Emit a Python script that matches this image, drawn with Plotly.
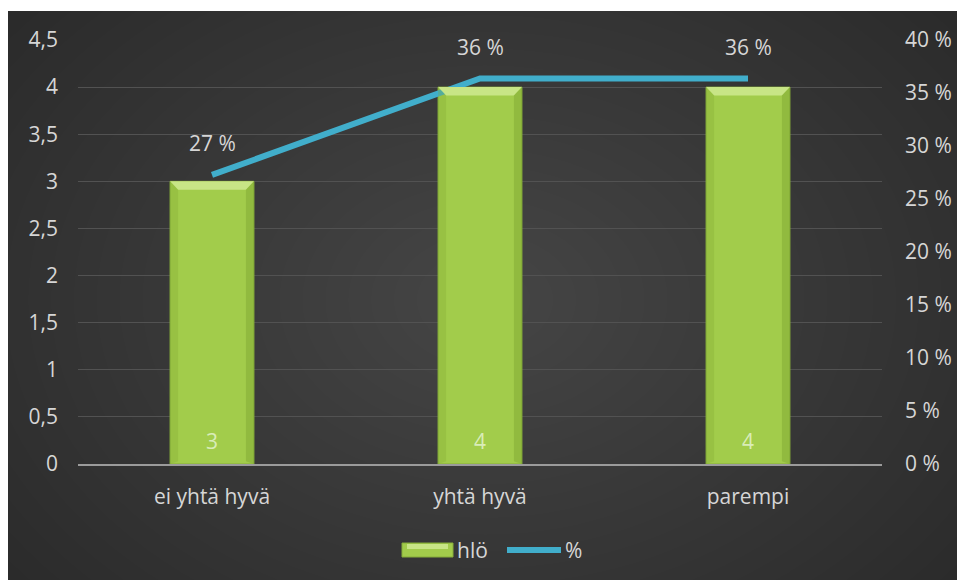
import plotly.graph_objects as go

# --- data ---------------------------------------------------------------
categories = ["ei yhtä hyvä", "yhtä hyvä", "parempi"]
counts = [3, 4, 4]
shares = [3 / 11, 4 / 11, 4 / 11]
share_labels = ["27 %", "36 %", "36 %"]

left_ticks = [0, 0.5, 1, 1.5, 2, 2.5, 3, 3.5, 4, 4.5]
left_tick_text = ["0", "0,5", "1", "1,5", "2", "2,5", "3", "3,5", "4", "4,5"]
right_ticks = [0, 0.05, 0.10, 0.15, 0.20, 0.25, 0.30, 0.35, 0.40]
right_tick_text = ["0 %", "5 %", "10 %", "15 %", "20 %", "25 %", "30 %", "35 %", "40 %"]

# --- geometry -----------------------------------------------------------
W, H = 957, 580
ML, MR, MT, MB = 78, 75, 40, 116
PW, PH = W - ML - MR, H - MT - MB
BAR_W = 0.313
FONT = "'Open Sans', 'Noto Sans', sans-serif"
FS = 21
TXT = "#d6d6d6"
GREEN = "#a2cc4b"
BLUE = "#41aecb"


def px(x):
    return (x - ML) / PW


def py(y):
    return (H - MB - y) / PH


fig = go.Figure()

fig.add_trace(go.Bar(
    x=categories, y=counts, width=BAR_W, name="hlö",
    marker=dict(color=GREEN, line=dict(color="#86ad3a", width=1)),
    showlegend=False, yaxis="y",
))
fig.add_trace(go.Scatter(
    x=categories, y=shares, mode="lines", name="%",
    line=dict(color=BLUE, width=6), showlegend=False, yaxis="y2",
))

shapes = []

# dark panel with a soft radial glow
shapes.append(dict(type="rect", xref="paper", yref="paper",
                   x0=px(8), x1=px(W + 5), y0=py(H + 5), y1=py(11),
                   fillcolor="#292929", line_width=0, layer="below"))
cx, cy = 485, 300
n = 28
for k in range(n):
    f = 1 - k / n
    rx, ry = 640 * f, 470 * f
    shapes.append(dict(type="circle", xref="paper", yref="paper",
                       x0=px(cx - rx), x1=px(cx + rx),
                       y0=py(cy + ry), y1=py(cy - ry),
                       fillcolor="rgba(255,255,255,0.0078)", line_width=0,
                       layer="below"))

# bevelled tops and edges of the bars
bx, by = 0.03, 0.09
for i, v in enumerate(counts):
    l, r = i - BAR_W / 2, i + BAR_W / 2
    shapes.append(dict(
        type="path", xref="x", yref="y", layer="above",
        path=f"M{l},{v} L{r},{v} L{r - bx},{v - by} L{l + bx},{v - by} Z",
        fillcolor="#c8e586", line_width=0))
    shapes.append(dict(
        type="path", xref="x", yref="y", layer="above",
        path=f"M{l},{v} L{l + bx},{v - by} L{l + bx},{0.03} L{l},0 Z",
        fillcolor="rgba(130,170,50,0.30)", line_width=0))
    shapes.append(dict(
        type="path", xref="x", yref="y", layer="above",
        path=f"M{r},{v} L{r - bx},{v - by} L{r - bx},{0.03} L{r},0 Z",
        fillcolor="rgba(120,160,45,0.40)", line_width=0))

annotations = []
# percentage labels above the line
for c, s, t in zip(categories, shares, share_labels):
    annotations.append(dict(x=c, y=s, xref="x", yref="y2", text=t,
                            showarrow=False, yshift=32,
                            font=dict(family=FONT, size=FS, color=TXT)))
# count labels at the base of the bars
for c, v in zip(categories, counts):
    annotations.append(dict(x=c, y=0, xref="x", yref="y", text=str(v),
                            showarrow=False, yshift=23,
                            font=dict(family=FONT, size=FS, color="#d9ecb8")))

# legend
ly = 550
shapes.append(dict(type="rect", xref="paper", yref="paper",
                   x0=px(402), x1=px(453), y0=py(557), y1=py(543),
                   fillcolor=GREEN, line=dict(color="#86ad3a", width=1)))
shapes.append(dict(type="rect", xref="paper", yref="paper",
                   x0=px(407), x1=px(448), y0=py(549), y1=py(544),
                   fillcolor="#c8e586", line_width=0))
shapes.append(dict(type="line", xref="paper", yref="paper",
                   x0=px(507), x1=px(561), y0=py(ly), y1=py(ly),
                   line=dict(color=BLUE, width=6)))
annotations.append(dict(x=px(455), y=py(ly), xref="paper", yref="paper",
                        text="hlö", showarrow=False, xanchor="left",
                        yanchor="middle",
                        font=dict(family=FONT, size=FS, color=TXT)))
annotations.append(dict(x=px(563), y=py(ly), xref="paper", yref="paper",
                        text="%", showarrow=False, xanchor="left",
                        yanchor="middle",
                        font=dict(family=FONT, size=FS, color=TXT)))

fig.update_layout(
    width=W, height=H,
    margin=dict(l=ML, r=MR, t=MT, b=MB, pad=0, autoexpand=False),
    paper_bgcolor="white", plot_bgcolor="rgba(0,0,0,0)",
    font=dict(family=FONT, size=FS, color=TXT),
    shapes=shapes, annotations=annotations, showlegend=False,
    xaxis=dict(range=[-0.5, 2.5], showgrid=False, showline=True,
               linecolor="#9b9b9b", linewidth=2, ticks="", automargin=False,
               ticklabelstandoff=13, tickfont=dict(size=FS, color=TXT)),
    yaxis=dict(range=[0, 4.5], tickvals=left_ticks, ticktext=left_tick_text,
               showgrid=True, gridcolor="#525252", gridwidth=1,
               zeroline=False, showline=False, ticks="", automargin=False,
               ticklabelstandoff=19, tickfont=dict(size=FS, color=TXT)),
    yaxis2=dict(range=[0, 0.4], tickvals=right_ticks, ticktext=right_tick_text,
                overlaying="y", side="right", showgrid=False, zeroline=False,
                showline=False, ticks="", ticklabelstandoff=22,
                automargin=False, tickfont=dict(size=FS, color=TXT)),
)

fig.write_html("out.html")
